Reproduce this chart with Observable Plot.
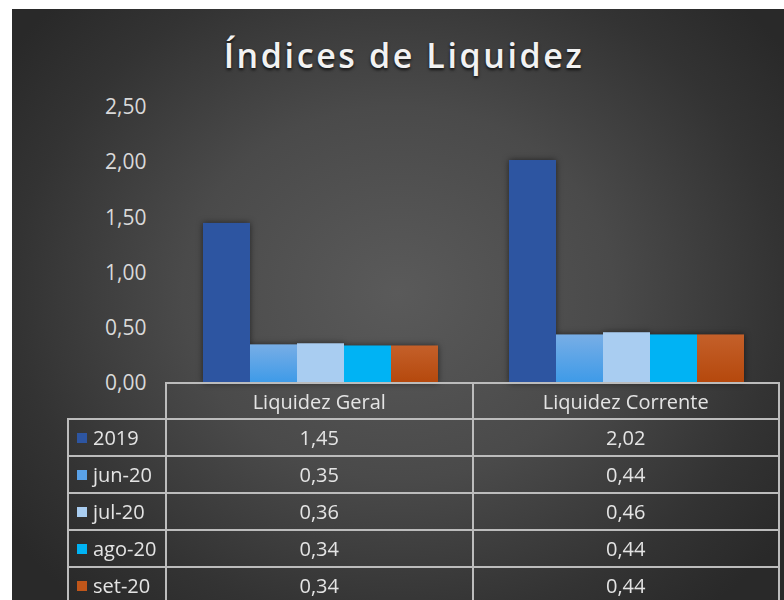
<!DOCTYPE html>
<html>
<head>
<meta charset="utf-8">
<script src="https://cdn.jsdelivr.net/npm/d3@7"></script>
<script src="https://cdn.jsdelivr.net/npm/@observablehq/plot@0.6"></script>
<style>
  html, body { margin: 0; padding: 0; background: #ffffff; }
  body { position: relative; width: 784px; height: 600px; overflow: hidden; font-family: "Open Sans", sans-serif; }
  #bg { position: absolute; left: 12px; top: 9px; width: 772px; height: 591px;
        background: radial-gradient(ellipse 62% 70% at 50% 48%, #5a5a5a 0%, #4a4a4a 45%, #333333 80%, #292929 100%); }
  #title { position: absolute; left: 12px; top: 33px; width: 784px; text-align: center;
           font-family: "Open Sans", sans-serif; font-weight: 600; font-size: 34px; line-height: 44px;
           letter-spacing: 2.6px; color: #f2f2f2; text-shadow: 0 2px 3px rgba(0,0,0,0.75); }
  #chart { position: absolute; left: 12px; top: 90px; }
  #chart svg { overflow: visible; }
  .cell { position: absolute; box-sizing: border-box; border: 2px solid #bcbcbc; color: #e4e4e4;
          font-size: 20px; display: flex; align-items: center; justify-content: center; white-space: nowrap; }
  .leg { justify-content: flex-start; padding-left: 8px; }
  .sw { display: inline-block; width: 10px; height: 10px; margin-right: 6px; }
</style>
</head>
<body>
<div id="bg"></div>
<div id="title">Índices de Liquidez</div>
<div id="chart"></div>
<div id="table"></div>
<script>
const categories = ["Liquidez Geral", "Liquidez Corrente"];
const series = ["2019", "jun-20", "jul-20", "ago-20", "set-20"];
const liquidezGeral = [1.45, 0.35, 0.36, 0.34, 0.34];
const liquidezCorrente = [2.02, 0.44, 0.46, 0.44, 0.44];
const yTicks = [0, 0.5, 1, 1.5, 2, 2.5];
const swatchColors = ["#2d55a1", "#5aa2e8", "#a9cdf1", "#00b3f4", "#c0561a"];
const barFills = ["#2d55a1", "url(#gJun)", "#a9cdf1", "#00b3f4", "url(#gSet)"];

const seriesValues = [liquidezGeral, liquidezCorrente];
const data = [];
categories.forEach((c, i) => series.forEach((s, j) => data.push({category: c, series: s, value: seriesValues[i][j]})));

const fmt = d => d.toFixed(2).replace(".", ",");

const chart = Plot.plot({
  width: 772,
  height: 293,
  marginLeft: 154,
  marginRight: 5,
  marginTop: 17,
  marginBottom: 0,
  style: {background: "transparent", overflow: "visible", color: "#d9d9d9", fontSize: "21px", fontFamily: "Open Sans, sans-serif"},
  fx: {domain: categories, padding: 0, axis: null, label: null},
  x: {domain: series, paddingInner: 0, paddingOuter: 0.74, axis: null},
  y: {domain: [0, 2.5], axis: null},
  color: {domain: series, range: barFills},
  marks: [
    Plot.axisY({ticks: yTicks, tickFormat: fmt, tickSize: 0, tickPadding: 21, label: null, fill: "#d9d9d9"}),
    Plot.barY(data, {fx: "category", x: "series", y: "value", fill: "series", inset: 0})
  ]
});

const svg = d3.select(chart);
const defs = svg.insert("defs", ":first-child");
const g1 = defs.append("linearGradient").attr("id", "gJun").attr("x1", 0).attr("y1", 0).attr("x2", 0).attr("y2", 1);
g1.append("stop").attr("offset", "0%").attr("stop-color", "#78aee6");
g1.append("stop").attr("offset", "100%").attr("stop-color", "#3d9ae8");
const g2 = defs.append("linearGradient").attr("id", "gSet").attr("x1", 0).attr("y1", 0).attr("x2", 0).attr("y2", 1);
g2.append("stop").attr("offset", "0%").attr("stop-color", "#c4602a");
g2.append("stop").attr("offset", "100%").attr("stop-color", "#b5480c");
svg.selectAll("g[aria-label='bar']").style("filter", "drop-shadow(0 0 3px rgba(0,0,0,0.55))");
svg.selectAll("g[aria-label='y-axis tick label'] text").style("font-size", "21px");

document.getElementById("chart").appendChild(chart);

// Data table below the axis
const table = document.getElementById("table");
const colX = [166, 472.5, 779];
const legX = [68, 166];
const headTop = 383, rowTop = 419, rowH = 37;
function cell(x0, y0, x1, y1, cls) {
  const d = document.createElement("div");
  d.className = "cell " + (cls || "");
  d.style.left = (x0 - 1) + "px";
  d.style.top = (y0 - 1) + "px";
  d.style.width = (x1 - x0 + 2) + "px";
  d.style.height = (y1 - y0 + 2) + "px";
  table.appendChild(d);
  return d;
}
categories.forEach((c, i) => {
  cell(colX[i], headTop, colX[i + 1], rowTop).textContent = c;
});
series.forEach((s, j) => {
  const y0 = rowTop + j * rowH, y1 = y0 + rowH;
  const l = cell(legX[0], y0, legX[1], y1, "leg");
  const sw = document.createElement("span");
  sw.className = "sw";
  sw.style.background = swatchColors[j];
  l.appendChild(sw);
  l.appendChild(document.createTextNode(s));
  categories.forEach((c, i) => {
    cell(colX[i], y0, colX[i + 1], y1).textContent = fmt(seriesValues[i][j]);
  });
});
</script>
</body>
</html>
